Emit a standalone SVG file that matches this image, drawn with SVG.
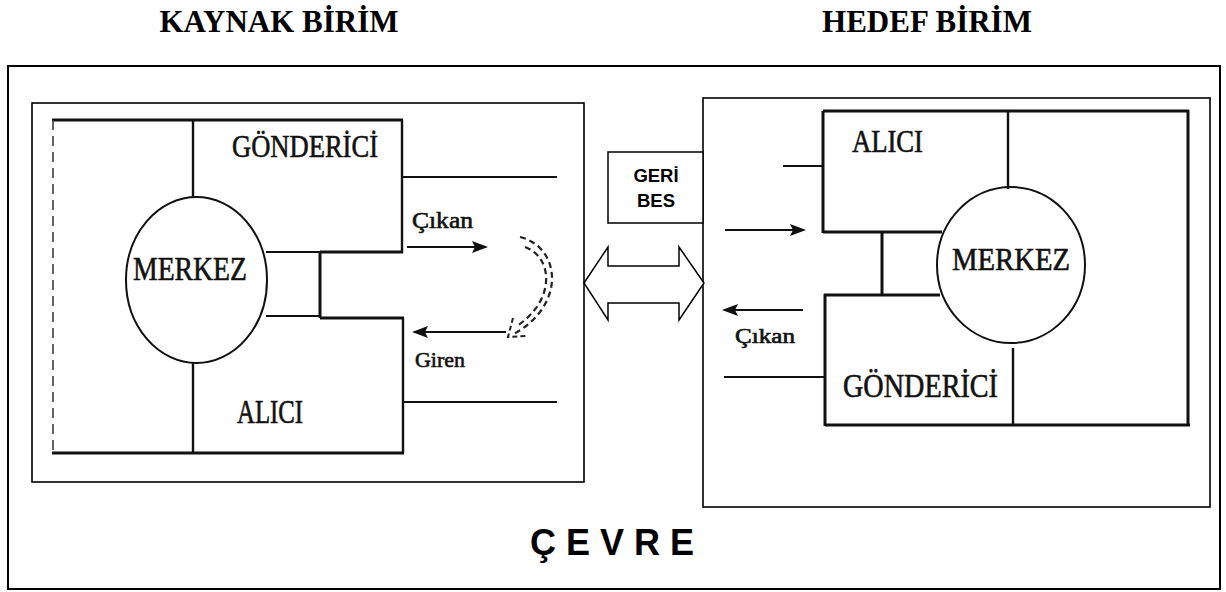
<svg xmlns="http://www.w3.org/2000/svg" width="1226" height="592" viewBox="0 0 1226 592">
<style>
.frame{fill:none;stroke:#000;stroke-width:2}
.thin{fill:none;stroke:#000;stroke-width:1.6}
.thick{fill:none;stroke:#111;stroke-width:3}
.mid{fill:none;stroke:#111;stroke-width:2.4}
.line{fill:none;stroke:#111;stroke-width:2}
.scan{font-family:"Liberation Serif","Times New Roman",serif;fill:#111;stroke:#111;stroke-width:0.6}
.title{font-family:"Liberation Serif","Times New Roman",serif;font-weight:bold;font-size:31px;fill:#000}
.sans{font-family:"Liberation Sans",Arial,sans-serif;font-weight:bold;fill:#000}
.dash{fill:none;stroke:#222;stroke-width:2.2;stroke-dasharray:6 4}
</style>
<defs>
<marker id="ah" markerWidth="16" markerHeight="12" refX="14" refY="6" orient="auto" markerUnits="userSpaceOnUse">
<path d="M0,0 L16,6 L0,12 L3,6 z" fill="#111"/>
</marker>
</defs>
<rect width="1226" height="592" fill="#fff"/>

<g id="title-kaynak"><text class="title" x="279" y="32" text-anchor="middle">KAYNAK BİRİM</text></g>
<g id="title-hedef"><text class="title" x="927" y="32" text-anchor="middle">HEDEF BİRİM</text></g>

<g id="cevre">
<rect class="frame" x="8" y="66" width="1212" height="523"/>
<text class="sans" x="530" y="555" font-size="36">Ç E V R E</text>
</g>

<g id="kaynak-birim">
<rect class="thin" x="32" y="103" width="552" height="379"/>
<line class="thick" x1="52" y1="120" x2="403" y2="120"/>
<line x1="53" y1="120" x2="53" y2="453" stroke="#333" stroke-width="1.5" stroke-dasharray="10 6"/>
<line class="mid" x1="193" y1="120" x2="193" y2="197"/>
<line class="mid" x1="402" y1="120" x2="402" y2="253"/>
<line class="line" x1="266" y1="252" x2="320" y2="252"/>
<line class="thick" x1="320" y1="252" x2="403" y2="252"/>
<line class="thick" x1="320" y1="252" x2="320" y2="318"/>
<line class="line" x1="266" y1="316" x2="320" y2="316"/>
<line class="thick" x1="320" y1="318" x2="404" y2="318"/>
<line class="mid" x1="403" y1="318" x2="403" y2="453"/>
<line class="mid" x1="193" y1="363" x2="193" y2="453"/>
<line class="thick" x1="52" y1="453" x2="404" y2="453"/>
<ellipse class="line" cx="196.5" cy="280" rx="70.5" ry="83"/>
<line class="line" x1="403" y1="177" x2="557" y2="177"/>
<line class="line" x1="403" y1="402" x2="557" y2="402"/>
<text class="scan" x="232" y="157" font-size="32" textLength="146" lengthAdjust="spacingAndGlyphs">GÖNDERİCİ</text>
<text class="scan" x="133" y="280" font-size="34" textLength="114" lengthAdjust="spacingAndGlyphs">MERKEZ</text>
<text class="scan" x="237" y="423" font-size="33" textLength="66" lengthAdjust="spacingAndGlyphs">ALICI</text>
<text class="scan" x="412" y="228" font-size="23" textLength="61" lengthAdjust="spacingAndGlyphs">Çıkan</text>
<text class="scan" x="415" y="367" font-size="22" textLength="50" lengthAdjust="spacingAndGlyphs">Giren</text>
<path class="dash" d="M520 237 C561 247 567 306 512 335"/>
<path class="dash" d="M525 247 C553 257 556 300 517 326"/>
<path d="M513 318 L508 337 L526 336" fill="none" stroke="#222" stroke-width="2" stroke-dasharray="5 3"/>
</g>

<g id="hedef-birim">
<rect class="thin" x="703" y="98" width="507" height="409"/>
<line class="thick" x1="823" y1="111" x2="1189" y2="111"/>
<line class="thick" x1="823" y1="111" x2="823" y2="233"/>
<line class="mid" x1="1008" y1="111" x2="1008" y2="189"/>
<line class="thick" x1="823" y1="232" x2="942" y2="232"/>
<line class="thick" x1="882" y1="232" x2="882" y2="296"/>
<line class="thick" x1="824" y1="295" x2="940" y2="295"/>
<line class="thick" x1="825" y1="294" x2="825" y2="426"/>
<line class="mid" x1="1013" y1="348" x2="1013" y2="426"/>
<line class="thick" x1="825" y1="425" x2="1190" y2="425"/>
<line class="thick" x1="1188" y1="110" x2="1188" y2="426"/>
<ellipse class="line" cx="1011" cy="265" rx="74" ry="78"/>
<line class="line" x1="783" y1="166" x2="823" y2="166"/>
<line class="line" x1="724" y1="377" x2="825" y2="377"/>
<text class="scan" x="852" y="152" font-size="31" textLength="71" lengthAdjust="spacingAndGlyphs">ALICI</text>
<text class="scan" x="952" y="270" font-size="32" textLength="118" lengthAdjust="spacingAndGlyphs">MERKEZ</text>
<text class="scan" x="735" y="343" font-size="20" textLength="60" lengthAdjust="spacingAndGlyphs">Çıkan</text>
<text class="scan" x="843" y="397" font-size="34" textLength="155" lengthAdjust="spacingAndGlyphs">GÖNDERİCİ</text>
</g>

<g id="geri-bes">
<rect x="608" y="152" width="95" height="71" fill="#fff" stroke="#000" stroke-width="1.5"/>
<text class="sans" x="656" y="182" font-size="18.5" text-anchor="middle">GERİ</text>
<text class="sans" x="656" y="207" font-size="18.5" text-anchor="middle">BES</text>
</g>

<g id="connectors">
<polygon points="584,283 608,247 608,266 679,266 679,247 704,283 679,320 679,303 608,303 608,320" fill="#fff" stroke="#000" stroke-width="1.5"/>
<line class="line" x1="407" y1="247" x2="486" y2="247" marker-end="url(#ah)"/>
<line class="line" x1="506" y1="332" x2="414" y2="332" marker-end="url(#ah)"/>
<line class="line" x1="725" y1="230" x2="804" y2="230" marker-end="url(#ah)"/>
<line class="line" x1="803" y1="310" x2="724" y2="310" marker-end="url(#ah)"/>
</g>
</svg>
